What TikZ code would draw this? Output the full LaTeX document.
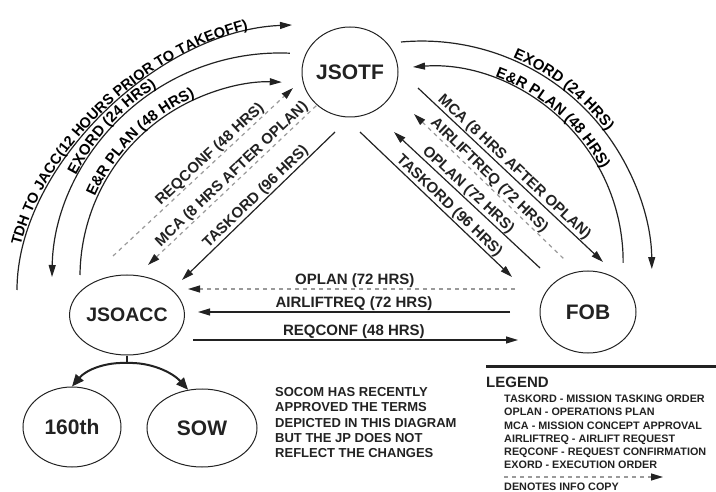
\documentclass[tikz,border=0pt]{standalone}
\usepackage{fontspec}
\setmainfont{Liberation Sans}
\usetikzlibrary{arrows.meta,shapes.geometric,decorations.text,calc}
\definecolor{ink}{HTML}{222222}
\definecolor{dashgray}{HTML}{9A9A9A}
\begin{document}
\begin{tikzpicture}[x=1pt,y=-1pt,
  every node/.style={text=ink},
  circ/.style={draw=ink, line width=1pt, ellipse, inner sep=0pt, font=\fontsize{21}{21}\selectfont\bfseries},
  conn/.style={draw=ink, line width=1.2pt, -{Triangle[length=12pt,width=7pt]}},
  connr/.style={draw=ink, line width=1.2pt, {Triangle[length=12pt,width=7pt]}-},
  info/.style={draw=dashgray, line width=1.2pt, dash pattern=on 4pt off 4pt, -{Triangle[length=12pt,width=7pt,color=ink]}},
  infor/.style={draw=dashgray, line width=1.2pt, dash pattern=on 4pt off 4pt, {Triangle[length=12pt,width=7pt,color=ink]}-},
  branch/.style={draw=ink, line width=2pt, -{Triangle[length=12pt,width=10pt]}},
  lab/.style={font=\fontsize{15}{15}\selectfont\bfseries, inner sep=0.5pt},
  arclab/.style={decorate, color=ink, decoration={text along path, text align=center, raise=2pt, text={#1}}}
]
\useasboundingbox (0,0) rectangle (716,492);

% nodes
\node[circ, minimum width=96pt, minimum height=90pt] (jsotf) at (350,72) {JSOTF};
\node[circ, minimum width=94pt, minimum height=80pt, font=\fontsize{19.5}{19.5}\selectfont\bfseries] (jsoacc) at (127,315) {JSOACC};
\node[circ, minimum width=96pt, minimum height=82pt] (fob) at (588,312) {FOB};
\node[circ, minimum width=98pt, minimum height=80pt] (n160) at (72,427) {160th};
\node[circ, minimum width=110pt, minimum height=78pt] (sow) at (202,428) {SOW};

% end points
\coordinate (opH1) at (188,289); \coordinate (opH2) at (515,289);
\coordinate (alH1) at (198,312); \coordinate (alH2) at (510,312);
\coordinate (rcH1) at (193,340); \coordinate (rcH2) at (518,340);
\coordinate (rqL1) at (113,256); \coordinate (rqL2) at (293,88);
\coordinate (mcL1) at (148,265); \coordinate (mcL2) at (317,105);
\coordinate (tkL1) at (182,280); \coordinate (tkL2) at (335,132);
\coordinate (mcR1) at (418,88);  \coordinate (mcR2) at (603,262);
\coordinate (alR1) at (414,114); \coordinate (alR2) at (565,260);
\coordinate (opR1) at (394,132); \coordinate (opR2) at (540,268);
\coordinate (tkR1) at (360,132); \coordinate (tkR2) at (512,277);
\coordinate (tdhS) at (17,290);  \coordinate (tdhE) at (292,25);
\coordinate (exLS) at (52,277);  \coordinate (cExL) at (280,281);
\coordinate (erLS) at (80,275);  \coordinate (cErL) at (275,277);
\coordinate (exRS) at (401,42);  \coordinate (cExR) at (422,271);
\coordinate (erRS) at (413,67);  \coordinate (cErR) at (427.5,262);
\coordinate (stem) at (127,363);

% horizontal connectors
\draw[info] (opH2) -- node[lab, above, pos=0.49] {OPLAN (72 HRS)} (opH1);
\draw[conn] (alH2) -- node[lab, above, pos=0.50] {AIRLIFTREQ (72 HRS)} (alH1);
\draw[conn] (rcH1) -- node[lab, above, pos=0.495] {REQCONF (48 HRS)} (rcH2);

% left diagonals
\draw[info] (rqL1) -- node[lab, sloped, above, pos=0.57] {REQCONF (48 HRS)} (rqL2);
\draw[infor] (mcL1) -- node[lab, sloped, above, pos=0.53] {MCA (8 HRS AFTER OPLAN)} (mcL2);
\draw[connr] (tkL1) -- node[lab, sloped, above, pos=0.52] {TASKORD (96 HRS)} (tkL2);

% right diagonals
\draw[conn] (mcR1) -- node[lab, sloped, above, pos=0.49] {MCA (8 HRS AFTER OPLAN)} (mcR2);
\draw[infor] (alR1) -- node[lab, sloped, above, pos=0.46] {AIRLIFTREQ (72 HRS)} (alR2);
\draw[connr] (opR1) -- node[lab, sloped, above, pos=0.47] {OPLAN (72 HRS)} (opR2);
\draw[conn] (tkR1) -- node[lab, sloped, above, pos=0.55] {TASKORD (96 HRS)} (tkR2);

% left arcs
\draw[conn] (tdhS) .. controls (17,165) and (160,30) .. (tdhE);
\path[arclab={|\fontsize{14.5}{14.5}\selectfont\bfseries|TDH TO JACC(12 HOURS PRIOR TO TAKEOFF)}] (tdhS) .. controls (17,165) and (160,30) .. (tdhE);
\draw[connr] (exLS) arc[start angle=181, end angle=272.5, radius=228];
\path[arclab={|\fontsize{15}{15}\selectfont\bfseries|EXORD (24 HRS)}] ($(cExL)+(182.5:228)$) arc[start angle=182.5, end angle=262.5, radius=228];
\draw[conn] (erLS) arc[start angle=180.6, end angle=272, radius=195];
\path[arclab={|\fontsize{15}{15}\selectfont\bfseries|E{\&}R PLAN (48 HRS)}] ($(cErL)+(185:195)$) arc[start angle=185, end angle=265, radius=195];

% right arcs
\draw[conn] (exRS) arc[start angle=264.8, end angle=359.5, radius=230];
\path[arclab={|\fontsize{15}{15}\selectfont\bfseries|EXORD (24 HRS)}] ($(cExR)+(268:230)$) arc[start angle=268, end angle=348, radius=230];
\draw[connr] (erRS) arc[start angle=265.7, end angle=360.3, radius=195.5];
\path[arclab={|\fontsize{15}{15}\selectfont\bfseries|E{\&}R PLAN (48 HRS)}] ($(cErR)+(271:195.5)$) arc[start angle=271, end angle=351, radius=195.5];

% JSOACC branches
\draw[draw=ink, line width=2pt] (jsoacc.south) -- (stem);
\draw[branch] (stem) .. controls (105,362) and (86,370) .. (n160.north);
\draw[branch] (stem) .. controls (150,362) and (172,372) .. (sow.110);

% note
\node[anchor=north west, align=left, inner sep=0pt, font=\fontsize{13}{15.4}\selectfont\bfseries] (note) at (275,387)
  {SOCOM HAS RECENTLY\\APPROVED THE TERMS\\DEPICTED IN THIS DIAGRAM\\BUT THE JP DOES NOT\\REFLECT THE CHANGES};

% legend
\coordinate (ruleA) at (486,366); \coordinate (ruleB) at (716,366);
\draw[ink, line width=3pt] (ruleA) -- (ruleB);
\node[anchor=north west, inner sep=0pt, font=\fontsize{15}{15}\selectfont\bfseries] (legend) at (486,377) {LEGEND};
\node[anchor=north west, align=left, inner sep=0pt, font=\fontsize{10.8}{13.2}\selectfont\bfseries] (legtext) at (504,395)
  {TASKORD - MISSION TASKING ORDER\\OPLAN - OPERATIONS PLAN\\MCA - MISSION CONCEPT APPROVAL\\AIRLIFTREQ - AIRLIFT REQUEST\\REQCONF - REQUEST CONFIRMATION\\EXORD - EXECUTION ORDER};
\coordinate (legA) at (504,477); \coordinate (legB) at (663,477);
\draw[info] (legA) -- (legB);
\node[anchor=north west, inner sep=0pt, font=\fontsize{10.8}{13.2}\selectfont\bfseries] (legdash) at (504,482.5) {DENOTES INFO COPY};
\end{tikzpicture}
\end{document}
